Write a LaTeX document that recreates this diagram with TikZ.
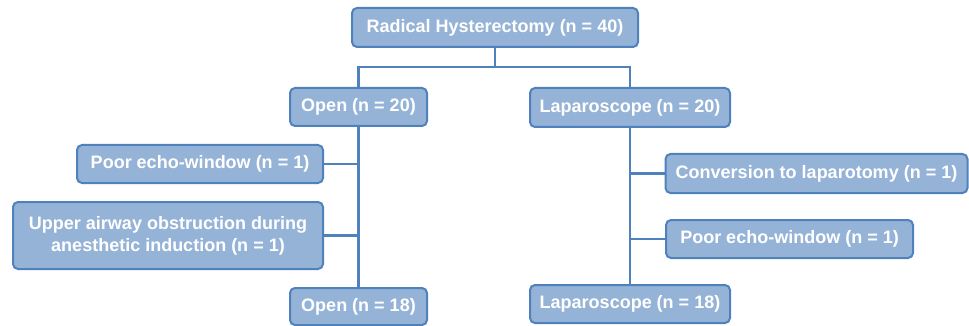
\documentclass[tikz,border=0pt]{standalone}
\usepackage{fontspec}
\setmainfont{Liberation Sans}
\definecolor{boxfill}{RGB}{149,179,215}
\definecolor{boxline}{RGB}{79,129,189}
\begin{document}
\begin{tikzpicture}[x=1pt,y=-1pt,
  box/.style={draw=boxline, fill=boxfill, line width=2pt, rounded corners=5pt,
    text=white, font=\fontsize{18}{22}\selectfont\bfseries, align=center,
    inner sep=0pt, minimum height=#1},
  box/.default=38pt,
  conn/.style={draw=boxline, line width=2.6pt}]
\useasboundingbox (0,0) rectangle (969,326);
\node[box=39pt, minimum width=286pt] (top) at (495,27.5) {Radical Hysterectomy (n = 40)};
\node[box, minimum width=137pt] (open) at (358.5,107) {Open (n = 20)};
\node[box=39pt, minimum width=200pt] (lap) at (630,107.5) {Laparoscope (n = 20)};
\node[box, minimum width=246pt] (poorL) at (200,164) {Poor echo-window (n = 1)};
\node[box=67pt, minimum width=310pt] (upper) at (168,235.5) {Upper airway obstruction during\\anesthetic induction (n = 1)};
\node[box=39pt, minimum width=302pt] (conv) at (816.5,173.5) {Conversion to laparotomy (n = 1)};
\node[box, minimum width=247pt] (poorR) at (789.5,239) {Poor echo-window (n = 1)};
\node[box=37pt, minimum width=137pt] (open18) at (358.5,306.5) {Open (n = 18)};
\node[box, minimum width=200pt] (lap18) at (630,304) {Laparoscope (n = 18)};
\coordinate (split) at (495,67);
\draw[conn] (top.south) -- (split);
\draw[conn] (open.north) |- (split) -| (lap.north);
\draw[conn] (open.south) -- (open18.north);
\draw[conn] (lap.south) -- (lap18.north);
\draw[conn] (poorL.east) -- (poorL.east -| open.south);
\draw[conn] (upper.east) -- (upper.east -| open.south);
\draw[conn] (conv.west) -- (conv.west -| lap.south);
\draw[conn] (poorR.west) -- (poorR.west -| lap.south);
\end{tikzpicture}
\end{document}
